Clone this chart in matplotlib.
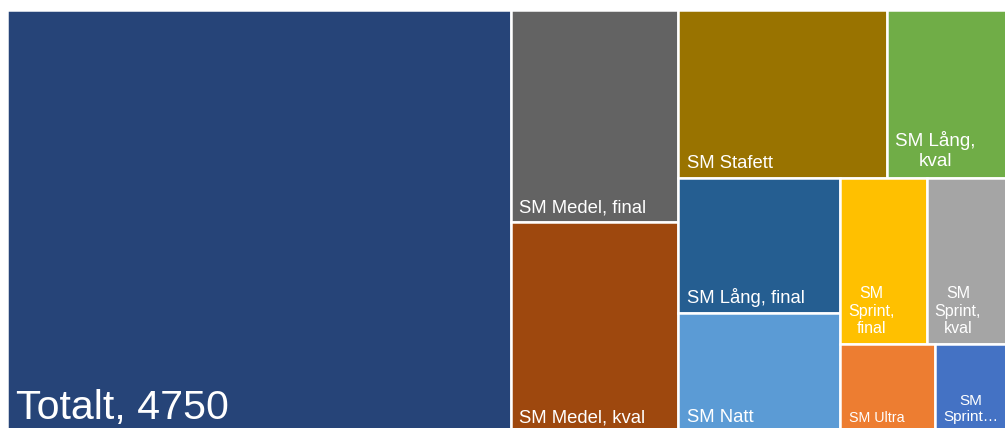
import matplotlib
matplotlib.use("Agg")
import matplotlib.pyplot as plt
from matplotlib.patches import Rectangle

# ---- data ----
categories = ["Totalt", "SM Medel, final", "SM Medel, kval", "SM Stafett",
              "SM Lång, kval", "SM Lång, final", "SM Natt", "SM Sprint, final",
              "SM Sprint, kval", "SM Ultra", "SM Sprint…"]
values = [4750, 795, 784, 782, 466, 488, 432, 322, 318, 186, 150]
labels = ["Totalt, 4750", "SM Medel, final", "SM Medel, kval", "SM Stafett",
          "SM Lång,\nkval", "SM Lång, final", "SM Natt", "SM\nSprint,\nfinal",
          "SM\nSprint,\nkval", "SM Ultra", "SM\nSprint…"]
colors = ["#264478", "#636363", "#9E480E", "#997300", "#70AD47", "#255E91",
          "#5B9BD5", "#FFC000", "#A5A5A5", "#ED7D31", "#4472C4"]
font_sizes = {"Totalt": 29.6, "SM Sprint, final": 11.5, "SM Sprint, kval": 11.5,
              "SM Ultra": 10.3, "SM Sprint…": 11.0, "SM Lång, kval": 13.6}
baseline_pads = {"Totalt": 13.5}
default_fs = 13.3

W_PX, H_PX = 1005, 428
# drawing extent of the treemap (it runs slightly past the picture edge)
X0, Y0, X1, Y1 = 7.0, 10.0, 1012.0, 432.0


def worst(row, side):
    s = sum(row)
    return max(max(side * side * r / (s * s), (s * s) / (side * side * r)) for r in row)


def squarify(vals, x, y, w, h):
    """Squarified treemap, items kept in the given order."""
    rects = []
    total = float(sum(vals))
    scale = w * h / total
    areas = [v * scale for v in vals]
    i = 0
    while i < len(areas):
        side = min(w, h)
        row = [areas[i]]
        j = i + 1
        while j < len(areas) and worst(row + [areas[j]], side) <= worst(row, side):
            row.append(areas[j])
            j += 1
        s = sum(row)
        if w >= h:  # lay out a column on the left
            cw = s / h
            cy = y
            for a in row:
                rh = a / cw
                rects.append((x, cy, cw, rh))
                cy += rh
            x += cw
            w -= cw
        else:  # lay out a row on top
            rh = s / w
            cx = x
            for a in row:
                rw = a / rh
                rects.append((cx, y, rw, rh))
                cx += rw
            y += rh
            h -= rh
        i = j
    return rects


fig = plt.figure(figsize=(W_PX / 100, H_PX / 100), dpi=100)
ax = fig.add_axes([0, 0, 1, 1])
ax.set_xlim(0, W_PX)
ax.set_ylim(H_PX, 0)
ax.axis("off")

rects = squarify(values, X0, Y0, X1 - X0, Y1 - Y0)
gap_pt = 2.5 * 72 / 100
for (x, y, w, h), col, cat, lab in zip(rects, colors, categories, labels):
    ax.add_patch(Rectangle((x, y), w, h, facecolor=col, edgecolor="white",
                           linewidth=gap_pt))
    fs = font_sizes.get(cat, default_fs)
    fs_px = fs * 100 / 72
    base_pad = baseline_pads.get(cat, 9.5)
    if "\n" in lab:
        ax.text(x + 8, y + h - base_pad - 2 + 0.21 * fs_px, lab, color="white",
                fontsize=fs, family="Liberation Sans", ha="left", va="bottom",
                multialignment="center", linespacing=1.2)
    else:
        ax.text(x + 8.5, y + h - base_pad, lab, color="white", fontsize=fs,
                family="Liberation Sans", ha="left", va="baseline")

fig.savefig("out.png", dpi=100, facecolor="white")
